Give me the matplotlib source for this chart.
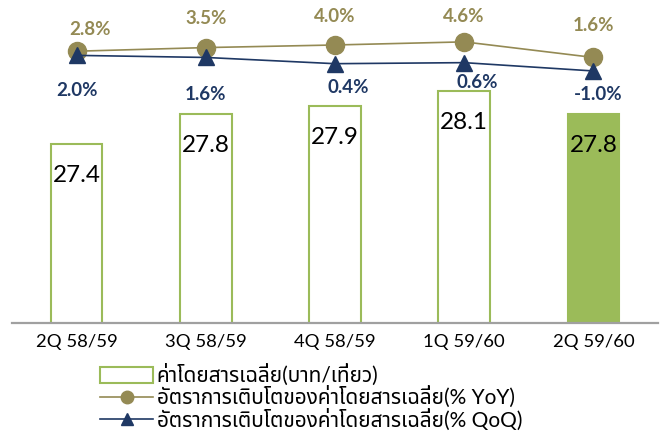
import matplotlib
matplotlib.use('Agg')
import matplotlib.pyplot as plt
from matplotlib import font_manager as fm
from matplotlib.ft2font import FT2Font
from matplotlib.patches import Patch
from matplotlib.lines import Line2D

categories = ['2Q 58/59', '3Q 58/59', '4Q 58/59', '1Q 59/60', '2Q 59/60']
fare = [27.4, 27.8, 27.9, 28.1, 27.8]
yoy = [2.8, 3.5, 4.0, 4.6, 1.6]
qoq = [2.0, 1.6, 0.4, 0.6, -1.0]
legend_labels = ['ค่าโดยสารเฉลี่ย(บาท/เที่ยว)',
                 'อัตราการเติบโตของค่าโดยสารเฉลี่ย(% YoY)',
                 'อัตราการเติบโตของค่าโดยสารเฉลี่ย(% QoQ)']


def thai_fonts():
    names = []
    for f in fm.fontManager.ttflist:
        try:
            cmap = FT2Font(f.fname).get_charmap()
        except Exception:
            continue
        if 0x0E04 in cmap and f.name not in names:
            names.append(f.name)
    pref = ['Noto Sans Thai', 'Noto Sans Thai UI', 'Noto Sans Thai Looped',
            'Loma', 'Garuda', 'Umpush', 'Waree', 'Sawasdee', 'Tlwg Typist']
    names.sort(key=lambda n: pref.index(n) if n in pref else len(pref))
    return names


thai = thai_fonts()
FAM = ['Lato'] + thai[:2] + ['DejaVu Sans']
plt.rcParams['font.family'] = FAM

GREEN = '#9BBB59'
OLIVE = '#948A54'
NAVY = '#1F3864'

W, H = 660, 434
fig = plt.figure(figsize=(W / 100, H / 100), dpi=100)
ax = fig.add_axes([12 / W, (H - 323) / H, 646 / W, 304 / H])
x = list(range(len(categories)))

faces = ['white'] * (len(fare) - 1) + [GREEN]
bars = ax.bar(x, fare, width=0.4, color=faces, edgecolor=GREEN, linewidth=1.5, zorder=2)
ax.set_ylim(25.05, 29.05)
ax.set_xlim(-0.5, len(categories) - 0.5)
for s in ['left', 'right', 'top']:
    ax.spines[s].set_visible(False)
ax.spines['bottom'].set_color('#A0A0A0')
ax.spines['bottom'].set_linewidth(1.6)
ax.set_yticks([])
ax.set_xticks(x)
ax.set_xticklabels(categories, fontsize=13.3)
ax.tick_params(axis='x', length=0, pad=8)

for xi, v in zip(x, fare):
    ax.annotate(f'{v:.1f}', (xi, v), xytext=(0, -31), textcoords='offset pixels',
                ha='center', va='center', fontsize=17.5, color='black')

ax2 = ax.twinx()
ax2.set_ylim(-49.5, 9.0)
ax2.set_axis_off()
ax2.plot(x, yoy, color=OLIVE, lw=1.2, marker='o', ms=13, mfc=OLIVE, mec=OLIVE, zorder=3)
ax2.plot(x, qoq, color=NAVY, lw=1.2, marker='^', ms=12, mfc=NAVY, mec=NAVY, zorder=4)

yoy_off = [(13, 22), (0, 29), (0, 28), (0, 25), (0, 32)]
qoq_off = [(0, -35), (0, -37), (13, -24), (13, -20), (5, -24)]
for xi, v, o in zip(x, yoy, yoy_off):
    ax2.annotate(f'{v:.1f}%', (xi, v), xytext=o, textcoords='offset pixels',
                 ha='center', va='center', fontsize=13.5, fontweight='bold', color=OLIVE)
for xi, v, o in zip(x, qoq, qoq_off):
    ax2.annotate(f'{v:.1f}%', (xi, v), xytext=o, textcoords='offset pixels',
                 ha='center', va='center', fontsize=13.5, fontweight='bold', color=NAVY)

handles = [Patch(facecolor='white', edgecolor=GREEN, linewidth=1.5),
           Line2D([], [], color=OLIVE, lw=1.2, marker='o', ms=9, mfc=OLIVE, mec=OLIVE),
           Line2D([], [], color=NAVY, lw=1.2, marker='^', ms=8, mfc=NAVY, mec=NAVY)]
fig.legend(handles, legend_labels, loc='upper left', bbox_to_anchor=(100 / W, 1 - 364 / H),
           frameon=False, fontsize=15, handlelength=2.55, handleheight=0.75,
           handletextpad=0.18, labelspacing=0.0, borderpad=0, borderaxespad=0)

fig.savefig('out.png', dpi=100)
